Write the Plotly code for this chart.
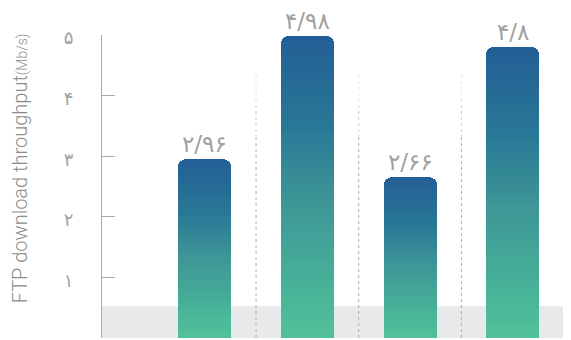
import plotly.graph_objects as go

# chart values
categories = [1, 2, 3, 4]
throughput = [2.96, 4.98, 2.66, 4.8]
y_ticks = [0, 1, 2, 3, 4, 5]
band_limit = 0.53

PERSIAN = str.maketrans("0123456789.", "۰۱۲۳۴۵۶۷۸۹/")


def fa(v):
    return f"{v:g}".translate(PERSIAN)


def mix(c1, c2, t):
    return "rgb({},{},{})".format(*[round(a + (b - a) * t) for a, b in zip(c1, c2)])


# gradient stops, bottom -> top of each bar
stops = [(0.0, (82, 194, 154)), (0.15, (72, 180, 152)), (0.45, (62, 150, 150)),
         (0.7, (40, 120, 150)), (1.0, (35, 94, 150))]


def grad(t):
    for (p0, c0), (p1, c1) in zip(stops, stops[1:]):
        if t <= p1:
            return mix(c0, c1, (t - p0) / (p1 - p0))
    return mix(stops[-1][1], stops[-1][1], 0)


N = 50
fig = go.Figure()
for k in range(N):
    fig.add_trace(go.Bar(
        x=categories,
        y=[v / N for v in throughput],
        marker=dict(color=grad((k + 0.5) / N), line=dict(width=0)),
        width=0.516,
        hoverinfo="skip",
        showlegend=False,
    ))

# value labels above the bars
for c, v in zip(categories, throughput):
    fig.add_annotation(
        x=c, y=v, text=fa(v), showarrow=False,
        yanchor="bottom", yshift=1, borderpad=0,
        font=dict(family="DejaVu Sans", size=23, color="#a0a0a0"),
    )

# grey band near zero
fig.add_shape(type="rect", xref="paper", x0=0, x1=1, y0=0, y1=band_limit,
              fillcolor="#e8e9eb", line_width=0, layer="below")

# dotted separators, fading toward the top
for c in categories[:-1]:
    xs = c + 0.5
    segs = [(0, 3.3, "#b0b0b0"), (3.3, 3.9, "#cccccc"), (3.9, 4.4, "#e4e4e4")]
    for y0, y1, col in segs:
        fig.add_shape(type="line", x0=xs, x1=xs, y0=y0, y1=y1,
                      line=dict(color=col, width=1, dash="dot"), layer="below")

fig.add_annotation(
    text="FTP download throughput<span style='font-size:14px'>(Mb/s)</span>",
    xref="paper", yref="paper", x=0, y=0.56, xshift=-82,
    xanchor="center", yanchor="middle",
    textangle=-90, showarrow=False,
    font=dict(family="Roboto", size=20, color="#8c8c8c", weight=300),
)

# page body keeps an 8px margin, so the figure is 8px smaller
fig.update_layout(
    width=563, height=332,
    margin=dict(l=94, r=0, t=27, b=2, autoexpand=False),
    barmode="stack",
    barcornerradius=8,
    bargap=0,
    plot_bgcolor="white", paper_bgcolor="white",
    xaxis=dict(range=[0, 4.567], visible=False, fixedrange=True),
    yaxis=dict(
        range=[0, 5],
        automargin=False,
        tickvals=y_ticks,
        ticktext=[fa(t) for t in y_ticks],
        tickfont=dict(family="DejaVu Sans", size=18, color="#a0a0a0"),
        ticks="inside", ticklen=13, tickcolor="#aaaaaa",
        ticklabelstandoff=24, ticklabelshift=3,
        showline=True, linecolor="#aaaaaa", linewidth=1,
        showgrid=False, zeroline=False,
    ),
)

fig.write_html("out.html")
